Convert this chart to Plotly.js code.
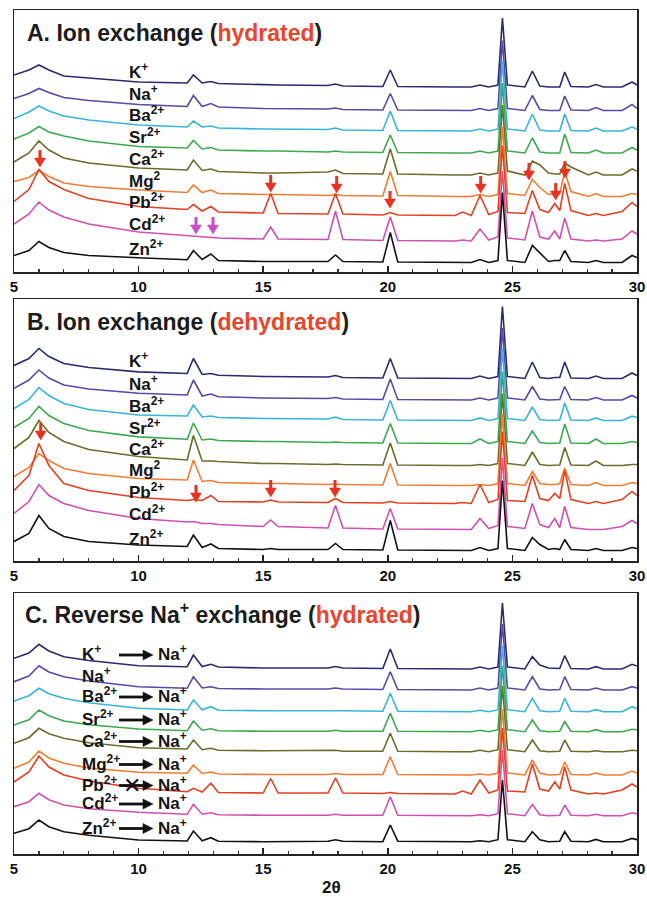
<!DOCTYPE html>
<html><head><meta charset="utf-8">
<script src="https://cdn.plot.ly/plotly-3.0.1.min.js"></script>
<style>html,body{margin:0;padding:0;background:#fff}#chart{width:647px;height:897px}</style>
</head><body><div id="chart"></div>
<script>
// 2-theta sampling positions (degrees)
const theta = [5, 5.6, 6.0, 6.4, 7.0, 8.0, 10.0,
  11.95, 12.2, 12.55, 12.9, 13.2,
  15.0, 15.3, 15.6,
  17.6, 17.9, 18.2,
  19.8, 20.1, 20.4,
  22.7, 23.0, 23.35, 23.7, 24.05,
  24.42, 24.6, 24.8,
  25.5, 25.8, 26.1,
  26.45, 26.7, 26.9, 27.1, 27.35,
  28.05, 28.35, 28.65,
  29.4, 29.8, 30];

const ions = ['K+', 'Na+', 'Ba2+', 'Sr2+', 'Ca2+', 'Mg2+', 'Pb2+', 'Cd2+', 'Zn2+'];
const ionColors = ['#2b2970', '#5549aa', '#35b6d8', '#3ca94f', '#6b6b2c', '#f27c33', '#e63f20', '#d24fb2', '#111111'];
const labelsAB = ['K<sup>+</sup>', 'Na<sup>+</sup>', 'Ba<sup>2+</sup>', 'Sr<sup>2+</sup>', 'Ca<sup>2+</sup>', 'Mg<sup>2</sup>', 'Pb<sup>2+</sup>', 'Cd<sup>2+</sup>', 'Zn<sup>2+</sup>'];
const labelsC = ['K<sup>+</sup>', 'Na<sup>+</sup>', 'Ba<sup>2+</sup>', 'Sr<sup>2+</sup>', 'Ca<sup>2+</sup>', 'Mg<sup>2+</sup>', 'Pb<sup>2+</sup>', 'Cd<sup>2+</sup>', 'Zn<sup>2+</sup>'];
const reverseTarget = 'Na<sup>+</sup>';

// stacking offsets (intensity units) of each pattern
const offsetsA = [185, 161.5, 141, 119, 97, 75.5, 56.5, 31, 9.5];
const offsetsB = [182.5, 161, 140.5, 117.5, 95.5, 75.5, 57.5, 31.5, 10.5];
const offsetsC = [185, 164, 142.3, 122.3, 102.3, 79, 60, 38.3, 12.3];

// A. Ion exchange (hydrated) - intensity above each pattern's flat baseline
const hydratedA = [
  [12,17,22,17,11,9,5, 4,12,4,5.5,3.5, 2,2,2, 1.5,3,1, 0.5,17,0.5, 0,0,0,2,0, 2,69,2, 0,16,1, 0,0,0,15,0.5, 0,2.5,0, 0,5,2],
  [12,17,22,18,13,10,6, 4,15,4,7,3.5, 2,2,2, 1.5,2.5,1, 0.5,17,0.5, 0,0,0,2,0, 2,70,2, 0,15,1, 0,0,0,14.5,0.5, 0,3,0, 0,6,2],
  [12.5,19,25,20,15,11,6, 4,10,4,5,3, 2,2,2, 1.5,3,1, 0.5,20,0.5, 0,0,0,2,0, 2,70,2, 0,17,1, 0,0,0,17,0.5, 0,3,0, 0,4,2],
  [14,20,26.5,21,17,12,6.5, 5,12.5,4,5.5,3, 2,2,2, 1,2,1, 0.5,18,0.5, 0,0,0,2,0, 2,70,2, 0,15,1, 0,0,0,19,0.5, 0,3,0, 0,5.5,3],
  [13,22,34,25,17,12,7, 5,15,4.5,6,3.5, 2,2,2, 3,5,1.5, 1,26,1, 0,0,0,2,0, 2,70,4, 0,14,10, 2,1,1,12,8, 0,3,0, 0,6,4],
  [15,19,26,20,13.5,10,6.5, 4,11.5,4,6.5,3, 2,2,2, 1,2,1, 0.5,25,1, 0,0,0,2,0, 2,70,3, 1,17,9, 2,3,3,25,5, 0,3,0, 0,3,2],
  [14,26,46,34,26,17,9, 6,11,4.5,9,3.5, 2.5,22,2, 1.5,22,1.5, 0.5,3,0.5, 0,3.5,0,20,1, 4,70,3, 2,25,6, 3,12,5,32,5, 0,2,0, 4,13,9],
  [17,27,39,31,24,17,9, 5.5,5,4.5,4,3, 2,14,2, 1.5,30,1.5, 0.5,24,0.5, 0,1,0,12,1, 4,70,3, 1,30,4, 2,10,2,23,2, 0,1,0, 2,10,7],
  [7,12,21,15,10,7,4.7, 2.7,12,3,8.5,2, 1,1,1, 1,7.5,1, 0.5,30,0.5, 0,0,0,3,0, 2,70,2, 0,17,10, 1,2,2,12,1, 0,2,0, 0,7,5]
];

// B. Ion exchange (dehydrated)
const dehydratedB = [
  [13,20,30,22,15,11,6.6, 5,20,4,5,3.3, 2,2,2, 1.5,3,1, 0.5,20,0.5, 0,0,0,2.5,0, 2,72,2, 0,16.5,1, 0,1,1,16.5,0.5, 0,2.5,0, 0,5.5,3],
  [11.7,20,30,22,15,11,6.7, 5,20,4,6,3.3, 2,2,2, 1.5,2.5,1, 0.5,21,0.5, 0,0,0,2,0, 2,72,2, 0,13.5,1, 0,0.5,0.5,13.5,0.5, 0,2.5,0, 0,4.5,2],
  [12,21,33,25,17,11,5.5, 4.5,15.5,3.5,4.5,3, 2,2,2, 1.5,3.3,1, 0.5,20,0.5, 0,0,0,2.6,0, 2,72,2, 0,13.5,1, 0,0.5,0.5,17.5,0.5, 0,2.6,0, 0,4.3,3],
  [16,25,37,28,20,13,6.6, 4.3,20.5,3.5,4.5,3, 2,2,2, 1,1.5,1, 0.5,20,0.5, 0,0,0,4.5,0, 2,72,2, 0,12.5,1, 0,0.5,0.5,19.5,0.5, 0,4.5,0, 0,2,1],
  [17,28,45,33,24,16,9, 5.5,30,4.5,4.5,4, 2,2,2, 1,1.5,1, 0.5,22.5,0.5, 0,0,0,1,0, 2,72,2, 0,13.5,1, 0,0.5,0.5,18,0.5, 0,4.5,0, 0,1,1],
  [9,18,32,25,17,12,7, 5.5,25.5,4,5,3, 2,2,2, 1,1.5,1, 0.5,22,0.5, 0,0,0,1,0, 2,72,2, 0,14,2, 1,1,2,17.5,1, 0,3,0, 0,3,2],
  [13,28,60,38,20,13,6, 3,4,3,8,2, 1.5,3.5,1.5, 1,5,1, 0.5,2,0.5, 0,1,0,19,1, 4,72,3, 2,28,5, 3,10,5,33,4, 0,2,0, 4,12,8],
  [16,28,45,34,26,19,11, 7.5,8,6,6,5, 3,9.5,3, 1.5,24,1.5, 0.5,21,0.5, 0,0,0,11,1, 4,72,3, 1,26,5, 2,11,2,23,2, 0,0,0, 3,9,6],
  [9,17,35,22,14,9,5.5, 4,15.5,3,6.5,2, 1,2,1, 1,7,1, 0.5,30,0.5, 0,0,0,3,0, 2,70,2, 0,13,6, 1,2,1,11,1, 0,2,0, 0,3,2]
];

// C. Reverse Na+ exchange (hydrated)
const reverseC = [
  [10.7,16,24.7,18,12.3,8.5,3.3, 2.3,14,2.5,4.7,2, 1,1,1, 1,2.5,1, 0.5,20,0.5, 0,0,0,2,0, 2,66,2, 0,12.3,4, 1,0.5,0.5,13.3,0.5, 0,2.3,0, 0,4.7,3],
  [8.3,14,24.3,18,13.3,9,3.3, 1.7,13.3,2,3.3,1.5, 1,1,1, 1,2,1, 0.5,18.3,0.5, 0,0,0,2,0, 2,66,2, 0,13.3,1, 0,0.5,0.5,13.3,0.5, 0,2,0, 0,3.3,2],
  [10.7,16,23.4,18,13.4,9,3.4, 1.7,11.7,2,5,1.5, 1,1,1, 1,1.5,1, 0.5,18.4,0.5, 0,0,0,1.5,0, 2,66,2, 0,13.4,1, 0,0.5,0.5,13.4,0.5, 0,2,0, 0,5,3],
  [6.7,12,21.7,16,10.7,7,2.7, 1,10.7,1.5,3,1, 0.5,0.5,0.5, 0.5,1.5,0.5, 0.5,18.4,0.5, 0,0,0,1.5,0, 2,66,2, 0,11.7,1, 0,0.5,0.5,10,0.5, 0,2,0, 0,2.5,2],
  [8.4,14,23.4,18,13.4,9,4, 2.7,11.7,2,3.4,1.5, 1,1,1, 1,1.5,0.5, 0.5,18.4,0.5, 0,0,0,1.5,0, 2,66,2, 0,11.7,1, 0,0.5,0.5,11.7,0.5, 0,1,0, 0,1.5,1],
  [6.7,13,24,17,11.7,7,2.7, 1.7,10,1.5,3,1, 0.5,0.5,0.5, 0.5,1.5,0.5, 0.5,18.3,0.5, 0,0,0,1,0, 2,66,2, 0,15,2, 0,0.5,0.5,13,0.5, 0,2,0, 0,4,2],
  [12,22,38,27,19,13,5.7, 2.3,5.7,2,10.7,1.5, 1,15.5,1, 1,16,1, 0.5,1.5,0.5, 0,3,0,14,1, 4,66,3, 2,30,5, 3,12,5,27,4, 0,1,0, 4,10,7],
  [9,14,22.4,16,10.7,7,3.4, 1.4,11.4,1.5,3,1, 0.5,0.5,0.5, 0.5,1.5,0.5, 0.5,19,0.5, 0,0,0,1,0, 2,66,2, 0,11.4,1, 0,0.5,0.5,10.7,0.5, 0,1.5,0, 0,3,2],
  [8.4,13,21.7,15,10,6.5,1.7, 0.7,10.7,1,4,0.5, 0,0,0, 0.5,2,0.5, 0,16.7,0.5, 0,0,0,1,0, 2,62,2, 0,10,2, 0,0.5,0.5,10,0.5, 0,2.3,0, 0,3.3,2]
];

// ---------------- layout geometry (pixels) ----------------
const W = 647, H = 897, ML = 14, MR = 10, MT = 10, MB = 43;
const PW = W - ML - MR, PH = H - MT - MB;
const px = x => (x - ML) / PW;
const py = y => 1 - (y - MT) / PH;

const panels = [
  {data: hydratedA, off: offsetsA, xa: 'x', ya: 'y', top: 10, bot: 272},
  {data: dehydratedB, off: offsetsB, xa: 'x2', ya: 'y2', top: 299, bot: 561},
  {data: reverseC, off: offsetsC, xa: 'x3', ya: 'y3', top: 593, bot: 854}
];

const traces = [];
panels.forEach(p => {
  p.data.forEach((vals, i) => {
    traces.push({
      type: 'scatter', mode: 'lines', name: ions[i],
      x: theta, y: vals.map(v => v + p.off[i]),
      xaxis: p.xa, yaxis: p.ya,
      line: {color: ionColors[i], width: 1.6},
      hoverinfo: 'skip', showlegend: false
    });
  });
});

const axisFont = {family: 'Arial, Liberation Sans, sans-serif', size: 15, color: '#111', weight: 'bold'};
function xax(anchor) {
  return {
    anchor: anchor, domain: [0, 1], range: [5, 30],
    tickmode: 'linear', tick0: 5, dtick: 5,
    ticks: 'inside', ticklen: 6, tickwidth: 1.5, tickcolor: '#222',
    minor: {ticks: 'inside', ticklen: 3.5, tickwidth: 1.2, tickcolor: '#333', tickmode: 'linear', tick0: 5, dtick: 1},
    showline: true, linecolor: '#222', linewidth: 1.5, mirror: true,
    showgrid: false, zeroline: false, tickfont: axisFont, fixedrange: true
  };
}
function yax(p) {
  return {
    anchor: p.xa, domain: [py(p.bot), py(p.top)], range: [0, p.bot - p.top],
    showticklabels: false, ticks: '', showgrid: false, zeroline: false,
    showline: true, linecolor: '#222', linewidth: 1.5, mirror: true, fixedrange: true
  };
}

const annotations = [];
const shapes = [];
const titleFont = {family: 'Arial, Liberation Sans, sans-serif', size: 23, color: '#1c1c1c', weight: 'bold'};
const red = '#e8452c';
function addText(text, x, y, font, xanchor) {
  annotations.push({text: text, xref: 'paper', yref: 'paper', x: px(x), y: py(y),
    xanchor: xanchor || 'left', yanchor: 'middle', showarrow: false, font: font});
}
addText('A. Ion exchange (<span style="color:' + red + '">hydrated</span>)', 25, 33, titleFont);
addText('B. Ion exchange (<span style="color:' + red + '">dehydrated</span>)', 25, 322, titleFont);
addText('C. Reverse Na<sup>+</sup> exchange (<span style="color:' + red + '">hydrated</span>)', 23, 613, titleFont);

const labelFont = {family: 'Liberation Sans Narrow, Arial Narrow, Arial, sans-serif', size: 17, color: '#151515', weight: 'bold'};
const labelYA = [73, 95, 116.5, 138.5, 159.5, 181.5, 203, 225, 250];
const labelYB = [361.5, 385, 406.5, 428.5, 450, 471.5, 493, 515, 540];
const labelYC = [655, 677, 697, 720, 741.5, 764.5, 785.5, 804, 828.5];
labelsAB.forEach((t, i) => addText(t, 127, labelYA[i] - 2, labelFont));
labelsAB.forEach((t, i) => addText(t, 127, labelYB[i] - 2, labelFont));

// horizontal reaction arrow (tail x0 -> tip x1 at height y), pixels
function hArrow(x0, x1, y) {
  shapes.push({type: 'line', xref: 'paper', yref: 'paper', x0: px(x0), x1: px(x1 - 8), y0: py(y), y1: py(y),
    line: {color: '#111', width: 2.8}});
  shapes.push({type: 'path', xref: 'paper', yref: 'paper',
    path: 'M' + px(x1 - 10) + ',' + py(y - 5) + ' L' + px(x1) + ',' + py(y) + ' L' + px(x1 - 10) + ',' + py(y + 5) + ' Z',
    fillcolor: '#111', line: {color: '#111', width: 0.5}});
}
labelsC.forEach((t, i) => {
  addText(t, 80, labelYC[i] - 2, labelFont);
  if (i !== 1) {
    addText(reverseTarget, 156, labelYC[i] - 2, labelFont);
    hArrow(119, 153, labelYC[i]);
  }
});
// blocked reverse exchange for Pb
addText('✕', 132, labelYC[6], {family: 'DejaVu Sans, sans-serif', size: 22, color: '#111', weight: 'bold'}, 'center');

// vertical marker arrows pointing down to a tip (x, y), pixels
function mark(x, y, color) {
  shapes.push({type: 'line', xref: 'paper', yref: 'paper', x0: px(x), x1: px(x), y0: py(y - 17), y1: py(y - 7),
    line: {color: color, width: 3}});
  shapes.push({type: 'path', xref: 'paper', yref: 'paper',
    path: 'M' + px(x - 5.5) + ',' + py(y - 9) + ' L' + px(x + 5.5) + ',' + py(y - 9) + ' L' + px(x) + ',' + py(y) + ' Z',
    fillcolor: color, line: {color: color, width: 0.5}});
}
const redArrow = '#e8321e', pinkArrow = '#c64fc2';
[[40, 167], [270.7, 192], [336.7, 193], [390, 208], [480.7, 193], [529, 180], [555.7, 200], [565, 178]].forEach(a => mark(a[0], a[1], redArrow));
[[196, 234], [213, 234]].forEach(a => mark(a[0], a[1], pinkArrow));
[[40.7, 440], [196, 502], [270.7, 497], [335, 497]].forEach(a => mark(a[0], a[1], redArrow));

addText('2θ', 331, 887, {family: 'Arial, Liberation Sans, sans-serif', size: 17, color: '#111', weight: 'bold'}, 'center');

const layout = {
  width: W, height: H,
  margin: {l: ML, r: MR, t: MT, b: MB, pad: 0},
  paper_bgcolor: '#fff', plot_bgcolor: '#fff',
  showlegend: false,
  xaxis: xax('y'), xaxis2: xax('y2'), xaxis3: xax('y3'),
  yaxis: yax(panels[0]), yaxis2: yax(panels[1]), yaxis3: yax(panels[2]),
  annotations: annotations,
  shapes: shapes
};

Plotly.newPlot('chart', traces, layout, {displayModeBar: false, staticPlot: true});
</script>
</body></html>
